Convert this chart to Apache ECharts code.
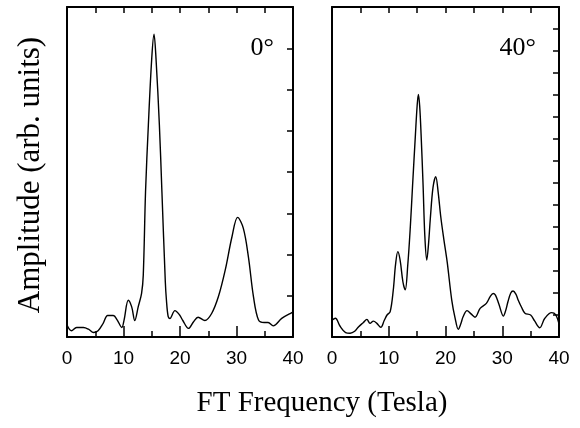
<!DOCTYPE html>
<html>
<head>
<meta charset="utf-8">
<script src="https://cdn.jsdelivr.net/npm/echarts@6/dist/echarts.min.js"></script>
<style>
  html, body { margin: 0; padding: 0; background: #fff; }
  #chart { width: 580px; height: 428px; }
</style>
</head>
<body>
<div id="chart"></div>
<script>
// 0 degree panel
var freq0 = [0, 0.8, 1.7, 2.9, 3.8, 4.7, 5.5, 6.4, 7.2, 8.2, 8.9, 9.7, 10.1, 10.85, 11.45, 12.0, 12.6, 13.2, 13.5, 13.9, 14.4, 15.0, 15.4, 15.75, 16.35, 16.8, 17.4, 17.6, 17.9, 18.2, 19.1, 19.9, 20.5, 21.5, 22.4, 23.2, 24.4, 25.6, 26.8, 28.0, 29.2, 30.2, 31.2, 32.1, 33.0, 33.9, 34.9, 35.6, 36.5, 38.0, 39.8, 40];
var amp0 = [0.29, 0.15, 0.23, 0.23, 0.19, 0.11, 0.15, 0.33, 0.52, 0.52, 0.41, 0.23, 0.41, 0.89, 0.73, 0.40, 0.73, 1.06, 1.5, 3.52, 5.14, 6.76, 7.34, 6.76, 5.14, 3.52, 1.34, 0.89, 0.5, 0.45, 0.64, 0.54, 0.4, 0.21, 0.37, 0.48, 0.40, 0.57, 0.98, 1.62, 2.43, 2.90, 2.64, 1.95, 0.98, 0.41, 0.35, 0.35, 0.27, 0.45, 0.59, 0.6];

// 40 degree panel
var freq40 = [0, 0.6, 1.4, 2.4, 3.2, 4.0, 4.7, 5.5, 6.15, 6.7, 7.3, 7.9, 8.6, 9.2, 9.7, 10.25, 10.8, 11.2, 11.6, 12.0, 12.5, 12.9, 13.35, 13.8, 14.2, 14.7, 15.0, 15.22, 15.45, 15.7, 16.05, 16.35, 16.7, 17.0, 17.33, 17.8, 18.28, 18.7, 19.15, 19.7, 20.3, 21.1, 21.7, 22.25, 22.7, 23.1, 23.8, 24.5, 25.2, 26.1, 27.2, 27.9, 28.4, 28.8, 29.4, 30.2, 30.6, 31.0, 31.5, 31.9, 32.4, 32.8, 33.4, 34.0, 35.0, 35.7, 36.6, 37.5, 38.7, 39.4, 40];
var amp40 = [0.77, 0.85, 0.5, 0.2, 0.17, 0.26, 0.47, 0.65, 0.80, 0.62, 0.72, 0.62, 0.44, 0.75, 1.0, 1.15, 2.14, 3.3, 3.88, 3.5, 2.5, 2.14, 3.27, 5.0, 6.9, 9.2, 10.5, 11.03, 10.5, 9.2, 6.9, 4.64, 3.5, 4.2, 5.4, 6.8, 7.29, 6.6, 5.5, 4.45, 3.4, 1.68, 0.85, 0.35, 0.6, 0.92, 1.20, 1.05, 0.90, 1.30, 1.53, 1.85, 1.98, 1.9, 1.5, 0.95, 1.2, 1.60, 2.0, 2.09, 1.95, 1.68, 1.35, 1.08, 1.0, 0.73, 0.42, 0.85, 1.11, 1.02, 0.6];

var xTicks = ['0', '10', '20', '30', '40'];
var panelLabels = ['0°', '40°'];

function pairs(xs, ys) {
  return xs.map(function(x, i) { return [x, ys[i]]; });
}

var chart = echarts.init(document.getElementById('chart'), null, { renderer: 'canvas' });
var black = '#000';
var plotH = 330;

function frameLine() {
  return { show: true, onZero: false, lineStyle: { color: black, width: 2 } };
}

// bottom frame line + tick labels
function bottomAxis(grid) {
  return {
    type: 'value', gridIndex: grid, position: 'bottom', min: 0, max: 40, interval: 10,
    axisLine: frameLine(),
    axisTick: { show: false },
    splitLine: { show: false },
    axisLabel: {
      color: black, fontSize: 19, fontFamily: 'Liberation Sans', margin: 12,
      formatter: function(v) { return xTicks[v / 10]; }
    }
  };
}
// bottom ticks: a top-side axis shifted down onto the bottom edge, ticks pointing up
function bottomTicks(grid, step, len) {
  return {
    type: 'value', gridIndex: grid, position: 'top', offset: -plotH,
    min: 0, max: 40, interval: step,
    axisLine: { show: false, onZero: false },
    axisTick: { show: true, inside: false, length: len, lineStyle: { color: black, width: 1.5 } },
    splitLine: { show: false }, axisLabel: { show: false }
  };
}
function topAxis(grid) {
  return {
    type: 'value', gridIndex: grid, position: 'top', min: 0, max: 40, interval: 5,
    axisLine: frameLine(),
    axisTick: { show: true, inside: true, length: 6, lineStyle: { color: black, width: 1.5 } },
    splitLine: { show: false }, axisLabel: { show: false }
  };
}
function leftAxis(grid, max) {
  return {
    type: 'value', gridIndex: grid, position: 'left', min: 0, max: max, interval: 1,
    axisLine: frameLine(), axisTick: { show: false },
    splitLine: { show: false }, axisLabel: { show: false }
  };
}
function rightAxis(grid, max) {
  return {
    type: 'value', gridIndex: grid, position: 'right', min: 0, max: max, interval: 1,
    axisLine: frameLine(),
    axisTick: { show: true, inside: true, length: 6, lineStyle: { color: black, width: 1.5 } },
    splitLine: { show: false }, axisLabel: { show: false }
  };
}

chart.setOption({
  animation: false,
  grid: [
    { left: 67, top: 7, width: 226, height: plotH },
    { left: 332, top: 7, width: 227, height: plotH }
  ],
  xAxis: [
    bottomAxis(0), topAxis(0), bottomTicks(0, 10, 11), bottomTicks(0, 5, 6),
    bottomAxis(1), topAxis(1), bottomTicks(1, 10, 11), bottomTicks(1, 5, 6)
  ],
  yAxis: [leftAxis(0, 8), rightAxis(0, 8), leftAxis(1, 15), rightAxis(1, 15)],
  series: [
    {
      type: 'line', xAxisIndex: 0, yAxisIndex: 0, data: pairs(freq0, amp0),
      showSymbol: false, smooth: 0.35,
      lineStyle: { color: black, width: 1.4 }
    },
    {
      type: 'line', xAxisIndex: 4, yAxisIndex: 2, data: pairs(freq40, amp40),
      showSymbol: false, smooth: 0.35,
      lineStyle: { color: black, width: 1.4 }
    }
  ],
  graphic: [
    {
      type: 'text', x: 31, y: 175, rotation: Math.PI / 2,
      style: { text: 'Amplitude (arb. units)', fontSize: 31, fontFamily: 'Liberation Serif', fill: black, align: 'center', verticalAlign: 'middle' }
    },
    {
      type: 'text', x: 322, y: 403,
      style: { text: 'FT Frequency (Tesla)', fontSize: 29, fontFamily: 'Liberation Serif', fill: black, align: 'center', verticalAlign: 'middle' }
    },
    {
      type: 'text', x: 274, y: 48,
      style: { text: panelLabels[0], fontSize: 26, fontFamily: 'Liberation Serif', fill: black, align: 'right', verticalAlign: 'middle' }
    },
    {
      type: 'text', x: 536, y: 48,
      style: { text: panelLabels[1], fontSize: 26, fontFamily: 'Liberation Serif', fill: black, align: 'right', verticalAlign: 'middle' }
    }
  ]
});
</script>
</body>
</html>
